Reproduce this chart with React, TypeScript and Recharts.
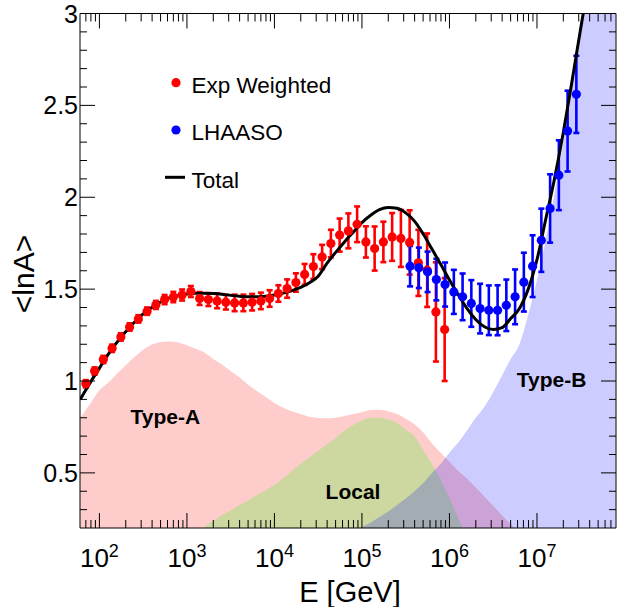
import React from 'react';
import {
  ComposedChart, Area, Line, Scatter, ErrorBar, XAxis, YAxis, ReferenceDot,
} from 'recharts';

// log10(E/GeV) of each point
const redLogE = [1.845, 1.945, 2.045, 2.145, 2.245, 2.345, 2.445, 2.545, 2.645, 2.745, 2.845, 2.945, 3.045,
  3.145, 3.245, 3.345, 3.445, 3.545, 3.645, 3.745, 3.845, 3.945, 4.045, 4.145, 4.245, 4.345, 4.445,
  4.545, 4.645, 4.745, 4.845, 4.945, 5.045, 5.145, 5.245, 5.345, 5.445, 5.545, 5.645, 5.745, 5.845, 5.945];
const redVal = [0.985, 1.054, 1.117, 1.178, 1.24, 1.294, 1.338, 1.38, 1.414, 1.443, 1.457, 1.468, 1.487,
  1.449, 1.443, 1.436, 1.429, 1.425, 1.425, 1.429, 1.436, 1.449, 1.476, 1.503, 1.536, 1.58, 1.623,
  1.675, 1.748, 1.794, 1.817, 1.853, 1.757, 1.721, 1.757, 1.784, 1.776, 1.754, 1.643, 1.603, 1.376, 1.28];
const redErr = [0.02, 0.02, 0.02, 0.02, 0.02, 0.02, 0.02, 0.02, 0.022, 0.025, 0.028, 0.03, 0.03,
  0.035, 0.035, 0.04, 0.04, 0.045, 0.045, 0.045, 0.045, 0.045, 0.045, 0.05, 0.05, 0.057, 0.067,
  0.066, 0.075, 0.09, 0.095, 0.097, 0.085, 0.12, 0.11, 0.13, 0.155, 0.175, 0.18, 0.2, 0.27, 0.28];

const blueLogE = [5.55, 5.65, 5.75, 5.85, 5.95, 6.05, 6.15, 6.25, 6.35, 6.45, 6.55, 6.65, 6.75, 6.85,
  6.95, 7.05, 7.15, 7.25, 7.35, 7.45];
const blueVal = [1.625, 1.616, 1.594, 1.552, 1.525, 1.485, 1.458, 1.422, 1.394, 1.385, 1.385, 1.412,
  1.458, 1.538, 1.625, 1.766, 1.939, 2.12, 2.36, 2.56];
const blueErr = [0.11, 0.11, 0.11, 0.113, 0.12, 0.12, 0.127, 0.127, 0.135, 0.135, 0.136, 0.14, 0.149,
  0.16, 0.168, 0.172, 0.186, 0.19, 0.22, 0.21];

const totalLogE = [1.78, 1.9, 2.0, 2.1, 2.2, 2.3, 2.4, 2.5, 2.6, 2.7, 2.8, 2.9, 3.0, 3.1, 3.2, 3.3, 3.4,
  3.5, 3.6, 3.7, 3.8, 3.9, 4.0, 4.1, 4.2, 4.3, 4.4, 4.5, 4.6, 4.7, 4.8, 4.9, 5.0, 5.1, 5.2, 5.3, 5.4,
  5.5, 5.6, 5.7, 5.8, 5.9, 6.0, 6.1, 6.2, 6.3, 6.4, 6.5, 6.6, 6.7, 6.8, 6.9, 7.0, 7.1, 7.2, 7.3, 7.4,
  7.5, 7.6];
const totalVal = [0.9, 0.995, 1.07, 1.145, 1.21, 1.268, 1.32, 1.365, 1.4, 1.43, 1.452, 1.465, 1.474,
  1.478, 1.478, 1.476, 1.472, 1.466, 1.461, 1.458, 1.458, 1.461, 1.468, 1.478, 1.492, 1.51, 1.535,
  1.57, 1.64, 1.7, 1.757, 1.81, 1.862, 1.902, 1.932, 1.944, 1.94, 1.915, 1.87, 1.8, 1.718, 1.635,
  1.55, 1.47, 1.395, 1.335, 1.295, 1.28, 1.29, 1.34, 1.395, 1.5, 1.66, 1.88, 2.1, 2.35, 2.63, 2.92, 3.2];

const typeALogE = [1.78, 1.9, 2.0, 2.1, 2.2, 2.3, 2.4, 2.5, 2.6, 2.7, 2.8, 2.9, 3.0, 3.1, 3.2, 3.3, 3.4,
  3.5, 3.6, 3.7, 3.8, 3.9, 4.0, 4.1, 4.2, 4.3, 4.4, 4.5, 4.6, 4.7, 4.8, 4.9, 5.0, 5.1, 5.2, 5.3, 5.4,
  5.5, 5.6, 5.7, 5.8, 5.9, 6.0, 6.1, 6.2, 6.3, 6.4, 6.5, 6.6, 6.7, 6.8, 6.9];
const typeAVal = [0.8, 0.88, 0.95, 0.99, 1.04, 1.085, 1.13, 1.17, 1.198, 1.212, 1.215, 1.21, 1.195,
  1.175, 1.155, 1.12, 1.09, 1.055, 1.02, 0.98, 0.945, 0.913, 0.88, 0.855, 0.835, 0.82, 0.805, 0.798,
  0.797, 0.8, 0.81, 0.82, 0.83, 0.842, 0.843, 0.835, 0.82, 0.795, 0.765, 0.72, 0.66, 0.61, 0.56, 0.51,
  0.47, 0.42, 0.37, 0.32, 0.27, 0.22, 0.17, 0.12];

const localLogE = [3.1, 3.2, 3.3, 3.4, 3.5, 3.6, 3.7, 3.8, 3.9, 4.0, 4.1, 4.2, 4.3, 4.4, 4.5, 4.6, 4.7,
  4.8, 4.9, 5.0, 5.1, 5.2, 5.3, 5.4, 5.5, 5.6, 5.7, 5.8, 5.9, 6.0, 6.1, 6.2, 6.3];
const localVal = [0.16, 0.205, 0.24, 0.27, 0.295, 0.325, 0.35, 0.38, 0.405, 0.435, 0.47, 0.51, 0.55,
  0.585, 0.62, 0.655, 0.69, 0.73, 0.76, 0.785, 0.8, 0.8, 0.79, 0.772, 0.735, 0.7, 0.625, 0.55, 0.46,
  0.36, 0.255, 0.15, 0.05];

const typeBLogE = [4.9, 5.0, 5.1, 5.2, 5.3, 5.4, 5.5, 5.6, 5.7, 5.8, 5.9, 6.0, 6.1, 6.2, 6.3, 6.4, 6.5,
  6.6, 6.7, 6.8, 6.9, 7.0, 7.1, 7.2, 7.3, 7.4, 7.5, 7.6, 7.7, 7.9];
const typeBVal = [0.17, 0.205, 0.23, 0.26, 0.29, 0.325, 0.36, 0.4, 0.445, 0.5, 0.55, 0.61, 0.665, 0.73,
  0.8, 0.86, 0.94, 1.03, 1.12, 1.2, 1.36, 1.55, 1.766, 2.02, 2.3, 2.6, 2.95, 3.3, 3.6, 4.3];

const decades = [100, 1e3, 1e4, 1e5, 1e6, 1e7];
const minorMult = [2, 3, 4, 5, 6, 7, 8, 9];
const xTicks = [70, 80, 90, ...decades.flatMap((d) => [d, ...minorMult.map((m) => m * d)])].filter((t) => t < 8e7);
const yTicks = [0.3, 0.4, 0.5, 0.6, 0.7, 0.8, 0.9, 1, 1.1, 1.2, 1.3, 1.4, 1.5, 1.6, 1.7, 1.8, 1.9, 2,
  2.1, 2.2, 2.3, 2.4, 2.5, 2.6, 2.7, 2.8, 2.9, 3];

const pts = (logE: number[], val: number[], err?: number[]) =>
  logE.map((l, i) => ({ e: Math.pow(10, l), v: val[i], err: err ? err[i] : 0 }));

const redData = pts(redLogE, redVal, redErr);
const blueData = pts(blueLogE, blueVal, blueErr);
const totalData = pts(totalLogE, totalVal);
const typeAData = pts(typeALogE, typeAVal);
const localData = pts(localLogE, localVal);
const typeBData = pts(typeBLogE, typeBVal);

const isDecade = (v: number) => {
  const l = Math.log10(v);
  return Math.abs(l - Math.round(l)) < 1e-9;
};
const isHalf = (v: number) => Math.abs(v * 2 - Math.round(v * 2)) < 1e-6;

const BottomTick = ({ x, y, payload }: any) => {
  const major = isDecade(payload.value);
  return (
    <g>
      <line x1={x} x2={x} y1={y} y2={y - (major ? 15 : 8)} stroke="#000" />
      {major && (
        <text x={x} y={y + 39} textAnchor="middle" fontSize={26} fill="#000">
          10<tspan dy={-10} fontSize={18}>{Math.round(Math.log10(payload.value))}</tspan>
        </text>
      )}
    </g>
  );
};
const TopTick = ({ x, y, payload }: any) => (
  <line x1={x} x2={x} y1={y} y2={y + (isDecade(payload.value) ? 15 : 8)} stroke="#000" />
);
const LeftTick = ({ x, y, payload }: any) => {
  const major = isHalf(payload.value);
  return (
    <g>
      <line x1={x} x2={x + (major ? 15 : 7)} y1={y} y2={y} stroke="#000" />
      {major && (
        <text x={x - 2} y={y + 9} textAnchor="end" fontSize={25} fill="#000">{payload.value}</text>
      )}
    </g>
  );
};
const RightTick = ({ x, y, payload }: any) => (
  <line x1={x} x2={x - (isHalf(payload.value) ? 15 : 7)} y1={y} y2={y} stroke="#000" />
);

const bold = { fill: '#000', fontSize: 21, fontWeight: 700 };

export default function App() {
  return (
    <div style={{ position: 'absolute', left: 0, top: 0, width: 618, height: 607, overflow: 'hidden', fontFamily: '"Liberation Sans", Arial, sans-serif' }}>
      <ComposedChart width={618} height={607} margin={{ top: 12.5, right: 1, bottom: 19, left: 0 }}>
        <XAxis dataKey="e" type="number" scale="log" domain={[60, 8e7]} ticks={xTicks} interval={0}
          allowDataOverflow tickSize={0} tickMargin={0} tickLine={false} tick={BottomTick} height={60}
          axisLine={{ stroke: '#000' }}
          label={{
            content: ({ viewBox }: any) => (
              <text x={viewBox.x + viewBox.width / 2 + 2} y={viewBox.y + 74} textAnchor="middle" fontSize={29} fill="#000">E [GeV]</text>
            ),
          }} />
        <XAxis xAxisId="t" orientation="top" dataKey="e" type="number" scale="log" domain={[60, 8e7]}
          ticks={xTicks} interval={0} allowDataOverflow tickSize={0} tickMargin={0} tickLine={false}
          tick={TopTick} height={1} axisLine={{ stroke: '#000' }} />
        <YAxis dataKey="v" type="number" domain={[0.2, 3]} ticks={yTicks} interval={0} allowDataOverflow
          tickSize={0} tickMargin={0} tickLine={false} tick={LeftTick} width={80} axisLine={{ stroke: '#000' }}
          label={{
            content: () => {
              const cx = 33.5;
              const cy = 274;
              return (
                <text x={cx} y={cy} transform={`rotate(-90 ${cx} ${cy})`} textAnchor="middle" fontSize={30} fill="#000">{'<lnA>'}</text>
              );
            },
          }} />
        <YAxis yAxisId="r" orientation="right" type="number" domain={[0.2, 3]} ticks={yTicks} interval={0}
          allowDataOverflow tickSize={0} tickMargin={0} tickLine={false} tick={RightTick} width={1}
          axisLine={{ stroke: '#000' }} />

        <Area data={typeAData} dataKey="v" type="monotone" stroke="none" fill="#ff0000" fillOpacity={0.2} isAnimationActive={false} />
        <Area data={localData} dataKey="v" type="monotone" stroke="none" fill="#80ea5e" fillOpacity={0.4} isAnimationActive={false} />
        <Area data={typeBData} dataKey="v" type="monotone" stroke="none" fill="#0000ff" fillOpacity={0.2} isAnimationActive={false} />

        <Scatter data={redData} dataKey="v" fill="#ff0000" isAnimationActive={false}
          shape={(p: any) => <circle cx={p.cx} cy={p.cy} r={4.6} fill="#ff0000" />}>
          <ErrorBar dataKey="err" direction="y" width={3} stroke="#ff0000" strokeWidth={2.6} isAnimationActive={false} />
        </Scatter>
        <Scatter data={blueData} dataKey="v" fill="#0000ff" isAnimationActive={false}
          shape={(p: any) => <circle cx={p.cx} cy={p.cy} r={4.6} fill="#0000ff" />}>
          <ErrorBar dataKey="err" direction="y" width={3} stroke="#0000ff" strokeWidth={2.6} isAnimationActive={false} />
        </Scatter>

        <Line data={totalData} dataKey="v" type="monotone" stroke="#000" strokeWidth={3} dot={false} isAnimationActive={false} />

        <ReferenceDot x={566} y={0.805} r={0} label={{ value: 'Type-A', position: 'center', ...bold }} />
        <ReferenceDot x={79100} y={0.397} r={0} label={{ value: 'Local', position: 'center', ...bold }} />
        <ReferenceDot x={1.47e7} y={1.007} r={0} label={{ value: 'Type-B', position: 'center', ...bold }} />
      </ComposedChart>

      <svg width={618} height={607} style={{ position: 'absolute', left: 0, top: 0, pointerEvents: 'none' }}>
        <circle cx={176} cy={82.7} r={4.6} fill="#ff0000" />
        <text x={191.5} y={92.5} fontSize={22.5} fill="#000">Exp Weighted</text>
        <circle cx={176} cy={130} r={4.6} fill="#0000ff" />
        <text x={191.5} y={140} fontSize={22.5} fill="#000">LHAASO</text>
        <line x1={165} x2={185} y1={177.3} y2={177.3} stroke="#000" strokeWidth={3} />
        <text x={191.5} y={188.3} fontSize={22.5} fill="#000">Total</text>
      </svg>
    </div>
  );
}
